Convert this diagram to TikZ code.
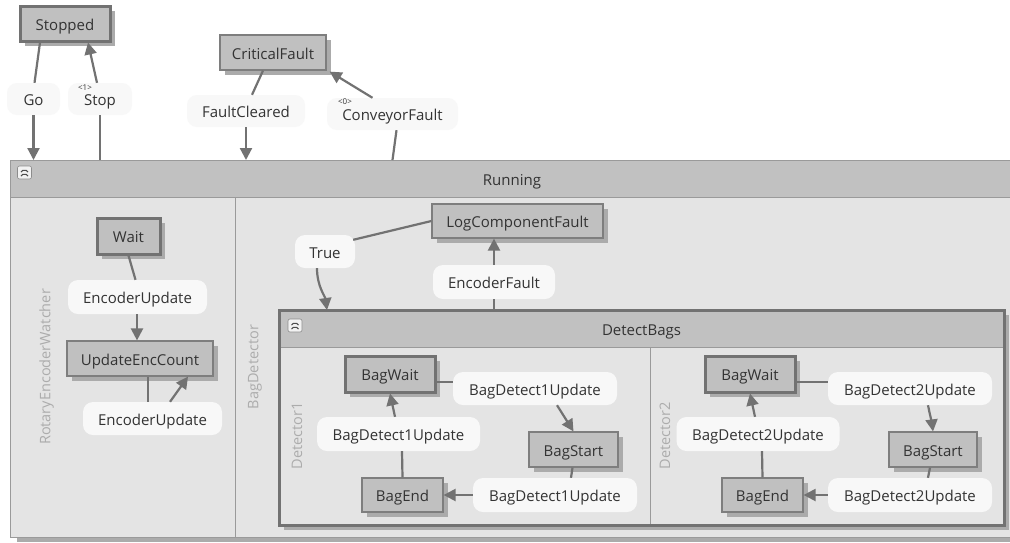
\documentclass[tikz,border=0pt]{standalone}
\usepackage{fontspec}
\setmainfont{Open Sans}
\usetikzlibrary{calc,arrows.meta,shadows}

\definecolor{stfill}{HTML}{C0C0C0}
\definecolor{stline}{HTML}{7E7E7E}
\definecolor{stthick}{HTML}{727272}
\definecolor{shade}{HTML}{ABABAB}
\definecolor{regfill}{HTML}{E4E4E4}
\definecolor{hdrfill}{HTML}{C1C1C1}
\definecolor{frame}{HTML}{9A9A9A}
\definecolor{lblfill}{HTML}{F8F8F8}
\definecolor{wirec}{HTML}{727272}
\definecolor{txt}{HTML}{333333}
\definecolor{faint}{HTML}{ACACAC}

\begin{document}
\begin{tikzpicture}[x=1pt,y=-1pt,
  base/.style={font=\fontsize{15}{17}\selectfont, text=txt, inner sep=0pt,
    text height=13pt, text depth=0pt},
  state/.style={base, draw=stline, line width=1.2pt, fill=stfill,
    drop shadow={shadow xshift=5pt, shadow yshift=-5pt, fill=shade, opacity=1}},
  initstate/.style={state, draw=stthick, line width=3pt},
  lbl/.style={base, fill=lblfill, rounded corners=10pt},
  tagtext/.style={font=\fontsize{8}{9}\selectfont, text=txt, inner sep=0pt},
  container/.style={fill=regfill, draw=frame, line width=1pt},
  hdr/.style={base, fill=hdrfill, draw=frame, line width=1pt},
  regionname/.style={font=\fontsize{14.5}{16}\selectfont, text=faint, inner sep=0pt, rotate=90},
  divider/.style={draw=frame, line width=1pt},
  fold/.style={minimum width=14pt, minimum height=13pt, inner sep=0pt,
    rounded corners=2pt, fill=white!95!black, draw=black!45, line width=.6pt,
    path picture={
      \draw[black!70, line width=1.1pt]
        ($(path picture bounding box.center)+(-3.5,-0.5)$) -- ++(3.5,-3) -- ++(3.5,3)
        ($(path picture bounding box.center)+(-3.5,3.5)$) -- ++(3.5,-3) -- ++(3.5,3);
    }},
  wire/.style={draw=wirec, line width=2.2pt},
  arr/.style={wire, -{Triangle[length=12pt,width=12pt]}}
]
\useasboundingbox (0,0) rectangle (1010,542);
\clip (0,0) rectangle (1010,542);
\fill[white] (0,0) rectangle (1010,542);

% ---- Running super-state ----
\node[container, anchor=north west, minimum width=1005pt, minimum height=377pt,
  drop shadow={shadow xshift=6pt, shadow yshift=-4pt, fill=shade, opacity=1}]
  (running) at (10,160) {};
\node[hdr, anchor=north west, minimum width=1005pt, minimum height=37pt] (runhdr) at (10,160) {};
\node[base] (runtitle) at (512,178.5) {Running};
\node[fold] (runfold) at (24.5,172.5) {};
\coordinate (divtop) at (235,197);
\coordinate (divbot) at (235,537);
\draw[divider] (divtop) -- (divbot);
\node[regionname] (rewname) at (46.5,367) {RotaryEncoderWatcher};
\node[regionname] (bdname) at (255,367) {BagDetector};

% ---- DetectBags composite state ----
\node[fill=regfill, anchor=north west, minimum width=725pt, minimum height=215pt, inner sep=0pt,
  drop shadow={shadow xshift=5pt, shadow yshift=-5pt, fill=shade, opacity=1}]
  (dbags) at (279,310) {};
\node[hdr, anchor=north west, minimum width=725pt, minimum height=37pt] (dbhdr) at (279,310) {};
\node[base] (dbtitle) at (641.5,328.5) {DetectBags};
\node[fold] (dbfold) at (295,325.5) {};
\coordinate (d2top) at (650,347);
\coordinate (d2bot) at (650,525);
\draw[divider] (d2top) -- (d2bot);
\draw[draw=stthick, line width=3pt] (dbags.north west) rectangle (dbags.south east);
\node[regionname] (d1name) at (297,436) {Detector1};
\node[regionname] (d2name) at (665,436) {Detector2};

% ---- top-level states ----
\node[initstate, minimum width=90pt, minimum height=35pt] (stopped) at (65,23.5) {Stopped};
\node[state, minimum width=106pt, minimum height=35pt] (critical) at (273,52.5) {CriticalFault};

% ---- RotaryEncoderWatcher ----
\node[initstate, minimum width=63pt, minimum height=36pt] (wait) at (128.5,236) {Wait};
\node[state, minimum width=146pt, minimum height=35pt] (enc) at (140,358.5) {UpdateEncCount};

% ---- BagDetector ----
\node[state, minimum width=171pt, minimum height=34pt] (log) at (517.5,221) {LogComponentFault};

\node[initstate, minimum width=90pt, minimum height=36pt] (bw1) at (390,374) {BagWait};
\node[state, minimum width=89pt, minimum height=35pt] (bs1) at (573.5,449.5) {BagStart};
\node[state, minimum width=81pt, minimum height=34pt] (be1) at (402.5,495) {BagEnd};

\node[initstate, minimum width=90pt, minimum height=36pt] (bw2) at (750,374) {BagWait};
\node[state, minimum width=88pt, minimum height=35pt] (bs2) at (933,449.5) {BagStart};
\node[state, minimum width=81pt, minimum height=34pt] (be2) at (762.5,495) {BagEnd};

% ---- transition labels ----
\node[lbl, minimum width=53pt, minimum height=32pt] (go) at (33.5,99) {Go};
\node[lbl, minimum width=64pt, minimum height=32pt] (stop) at (100,99) {Stop};
\node[tagtext] (stoptag) at (85,88) {<1>};
\node[lbl, minimum width=118pt, minimum height=32pt] (fc) at (246,111) {FaultCleared};
\node[lbl, minimum width=131pt, minimum height=32pt] (cf) at (392.5,114) {ConveyorFault};
\node[tagtext] (cftag) at (345,102) {<0>};

\node[lbl, minimum width=139pt, minimum height=34pt] (eu1) at (137.5,297) {EncoderUpdate};
\node[lbl, minimum width=139pt, minimum height=33pt] (eu2) at (152.5,418.5) {EncoderUpdate};

\node[lbl, minimum width=60pt, minimum height=33pt] (true) at (325,251.5) {True};
\node[lbl, minimum width=122pt, minimum height=34pt] (ef) at (494,282) {EncoderFault};

\node[lbl, minimum width=164pt, minimum height=33pt] (bd1t) at (535,388.5) {BagDetect1Update};
\node[lbl, minimum width=164pt, minimum height=34pt] (bd1r) at (555,495) {BagDetect1Update};
\node[lbl, minimum width=163pt, minimum height=34pt] (bd1l) at (398.5,434) {BagDetect1Update};

\node[lbl, minimum width=164pt, minimum height=33pt] (bd2t) at (910,388.5) {BagDetect2Update};
\node[lbl, minimum width=164pt, minimum height=34pt] (bd2r) at (910,495) {BagDetect2Update};
\node[lbl, minimum width=163pt, minimum height=34pt] (bd2l) at (758,434) {BagDetect2Update};

% ---- transitions: top level ----
\draw[wire] ([xshift=-25pt]stopped.south) -- ([xshift=1pt]go.north);
\draw[arr] (go.south) -- (go.south |- running.north);
\draw[wire] (stop.south |- running.north) -- (stop.south);
\draw[arr] ([xshift=-3pt]stop.north) -- ([xshift=23pt]stopped.south);
\draw[wire] ([xshift=-10pt]critical.south) -- ([xshift=6pt]fc.north);
\draw[arr] (fc.south) -- (fc.south |- running.north);
\draw[wire] (cf.south |- running.north) -- ([xshift=4pt]cf.south);
\draw[arr] ([xshift=-20pt]cf.north) -- ([shift={(3,1)}]critical.south east);

% ---- transitions: RotaryEncoderWatcher ----
\draw[wire] (wait.south) -- ([xshift=-2pt]eu1.north);
\draw[arr] ([xshift=-0.5pt]eu1.south) -- ([xshift=-3pt]enc.north);
\draw[wire] ([xshift=8pt]enc.south) -- ([xshift=-4.5pt]eu2.north);
\draw[arr] ([xshift=17.5pt]eu2.north) -- ([xshift=48pt]enc.south);

% ---- transitions: BagDetector ----
\draw[wire] (log.west) -- ([shift={(-2,5)}]true.north east);
\draw[arr] ([xshift=-8pt]true.south) .. controls +(0,18) and +(-2,-14) .. ($(dbags.north west)+(48,0)$);
\draw[wire] (ef.south |- dbags.north) -- (ef.south);
\draw[arr] (ef.north) -- (ef.north |- log.south);

% ---- transitions: Detector1 ----
\draw[wire] ([shift={(0,8)}]bw1.east) -- ([shift={(0,-6.5)}]bd1t.west);
\draw[arr] ([xshift=22pt]bd1t.south) -- (bs1.north);
\draw[wire] ([xshift=-1pt]bs1.south) -- ([xshift=16pt]bd1r.north);
\draw[arr] (bd1r.west) -- (be1.east);
\draw[wire] (be1.north) -- ([xshift=3.5pt]bd1l.south);
\draw[arr] ([xshift=-3.5pt]bd1l.north) -- (bw1.south);

% ---- transitions: Detector2 ----
\draw[wire] ([shift={(0,8)}]bw2.east) -- ([shift={(0,-6.5)}]bd2t.west);
\draw[arr] ([xshift=18pt]bd2t.south) .. controls +(2,10) and +(-1,-8) .. (bs2.north);
\draw[wire] ([xshift=-3pt]bs2.south) -- ([xshift=18pt]bd2r.north);
\draw[arr] (bd2r.west) -- (be2.east);
\draw[wire] (be2.north) -- ([xshift=4pt]bd2l.south);
\draw[arr] ([xshift=-3pt]bd2l.north) -- (bw2.south);
\end{tikzpicture}
\end{document}
